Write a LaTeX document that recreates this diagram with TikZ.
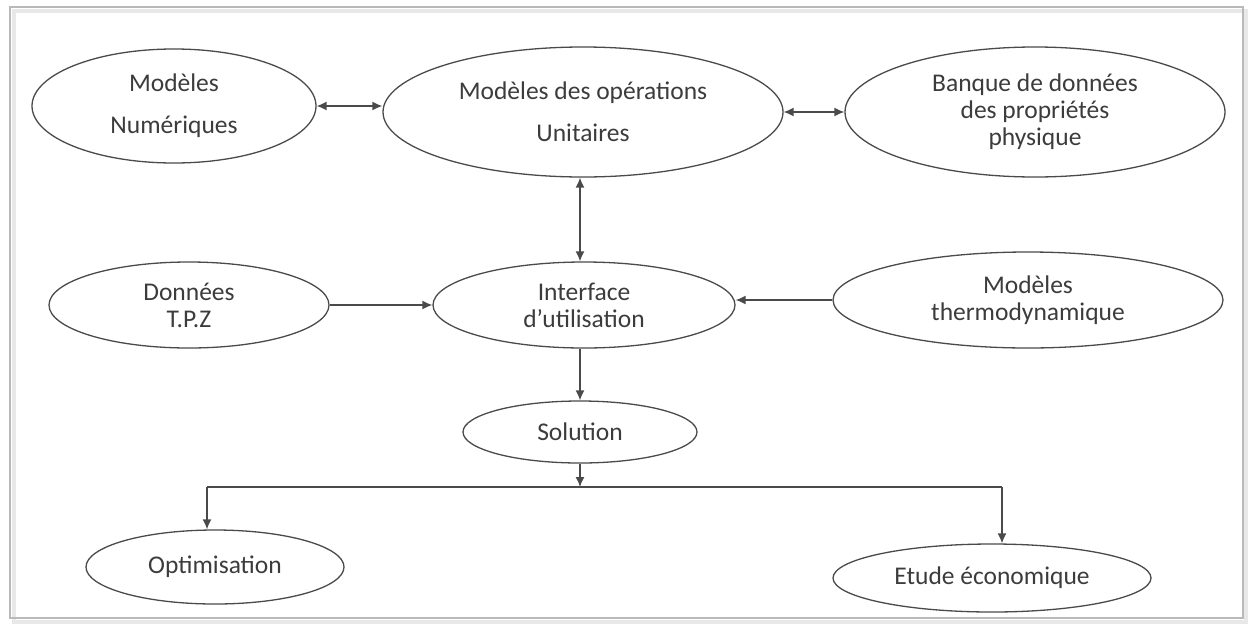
\documentclass[tikz,border=0pt]{standalone}
\usepackage{fontspec}
\setmainfont{Carlito}
\usetikzlibrary{shapes.geometric,arrows.meta}
\definecolor{txt}{HTML}{3C3C3C}
\definecolor{ln}{HTML}{4A4A4A}
\tikzset{
  oval/.style={ellipse, draw=ln, line width=1.3pt, inner sep=0pt, align=center,
    text=txt, font=\fontsize{25.5}{27}\selectfont},
  link/.style={draw=ln, line width=1.4pt},
  tip/.style={-{Latex[length=10pt,width=9pt]}},
  tips/.style={{Latex[length=10pt,width=9pt]}-{Latex[length=10pt,width=9pt]}},
}
\begin{document}
\begin{tikzpicture}[x=1pt,y=-1pt]
\useasboundingbox (0,0) rectangle (1249,627);
\fill[white] (0,0) rectangle (1249,627);
% frame with soft shadow
\draw[gray!18, line width=4pt] (14,11) rectangle (1246,622);
\draw[gray!55, line width=1.6pt] (10,7) rectangle (1243,618);

\node[oval, minimum width=284pt, minimum height=114pt] (num) at (174,106) {Modèles\\[15pt]Numériques};
\node[oval, minimum width=400pt, minimum height=130pt] (uni) at (583,112) {Modèles des opérations\\[15pt]Unitaires};
\node[oval, minimum width=380pt, minimum height=130pt] (ban) at (1035,112) {Banque de données\\des propriétés\\physique};
\node[oval, minimum width=280pt, minimum height=86pt] (don) at (189,305) {Données\\T.P.Z};
\node[oval, minimum width=302pt, minimum height=86pt] (int) at (584,305) {Interface\\d'utilisation};
\node[oval, minimum width=390pt, minimum height=96pt] (the) at (1028,300) {Modèles\\thermodynamique};
\node[oval, minimum width=234pt, minimum height=62pt] (sol) at (580,432) {Solution};
\node[oval, minimum width=258pt, minimum height=74pt] (opt) at (215,567) {Optimisation};
\node[oval, minimum width=318pt, minimum height=68pt] (eco) at (992,578) {Etude économique};

\coordinate (hub) at (580,487);
\coordinate (lft) at (207,487);
\coordinate (rgt) at (1002,487);

\draw[link, tips] (num.east) -- (num.east -| uni.west);
\draw[link, tips] (uni.east) -- (ban.west);
\draw[link, tips] (uni.south -| hub) -- (int.north -| hub);
\draw[link, tip] (don.east) -- (don.east -| int.west);
\draw[link, tip] (the.west) -- (the.west -| int.east);
\draw[link, tip] (int.south -| hub) -- (sol.north -| hub);
\draw[link, tip] (sol.south -| hub) -- (hub);
\draw[link] (lft) -- (rgt);
\draw[link, tip] (lft) -- (lft |- opt.north);
\draw[link, tip] (rgt) -- (rgt |- eco.north);
\end{tikzpicture}
\end{document}
